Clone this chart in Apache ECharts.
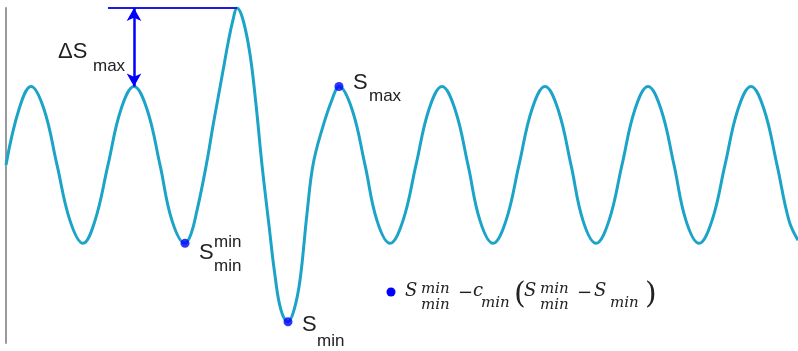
<!DOCTYPE html>
<html>
<head>
<meta charset="utf-8">
<script src="https://cdn.jsdelivr.net/npm/echarts@6/dist/echarts.min.js"></script>
<style>
  html, body { margin: 0; padding: 0; background: #ffffff; }
  #chart { width: 798px; height: 351px; }
</style>
</head>
<body>
<div id="chart"></div>
<script>
// Signal samples along t (regular oscillation, overshoot peak, deep minimum)
const waveT = [6, 19, 31, 44, 57, 70, 83, 95, 108, 121, 134, 147, 160, 172, 185,
               191, 197, 203, 208, 213, 218, 223, 228, 233, 237,
               243, 250, 256, 262, 269, 275, 281, 288,
               294, 300, 307, 313, 322, 332, 339,
               352, 365, 377, 390, 403, 416, 429, 442, 455, 468, 480, 493, 506, 519, 532,
               545, 558, 571, 583, 596, 609, 622, 635, 648, 661, 674, 686, 699, 712, 725,
               738, 751, 764, 777, 789, 798];
const waveS = [0, 0.71, 1, 0.71, 0, -0.71, -1, -0.71, 0, 0.71, 1, 0.71, 0, -0.71, -1,
               -0.88, -0.58, -0.22, 0.12, 0.5, 0.85, 1.2, 1.55, 1.85, 2,
               1.85, 1.41, 0.77, 0, -0.77, -1.41, -1.85, -2,
               -1.85, -1.47, -0.62, 0, 0.45, 0.83, 1,
               0.71, 0, -0.71, -1, -0.71, 0, 0.71, 1, 0.71, 0, -0.71, -1, -0.71, 0, 0.71,
               1, 0.71, 0, -0.71, -1, -0.71, 0, 0.71, 1, 0.71, 0, -0.71, -1, -0.71, 0,
               0.71, 1, 0.71, 0, -0.71, -0.96];

// Highlighted points: S_min^min, S_min, S_max
const pointT = [185, 288, 339];
const pointS = [-1, -2, 1];

// Delta S_max: regular peak vs. overshoot peak
const deltaT = 134;
const deltaLow = 1;
const deltaHigh = 2;
const refLineT = [108, 237];

const INK = '#222222';
const BLUE = '#0000ff';
const SANS = '"Liberation Sans", Arial, sans-serif';
const SERIF = '"DejaVu Serif", serif';

const chart = echarts.init(document.getElementById('chart'), null, { renderer: 'canvas' });

chart.setOption({
  animation: false,
  backgroundColor: '#ffffff',
  grid: { left: 6, right: 0, top: 8, bottom: 8 },
  xAxis: { type: 'value', min: 6, max: 798, show: false },
  yAxis: {
    type: 'value', min: -2.27, max: 2,
    axisLine: { show: true, lineStyle: { color: '#9a9a9a', width: 2 } },
    axisTick: { show: false }, axisLabel: { show: false }, splitLine: { show: false }
  },
  series: [
    {
      type: 'line',
      data: waveT.map((t, i) => [t, waveS[i]]),
      smooth: 0.4,
      showSymbol: false,
      lineStyle: { color: '#1ba3c8', width: 3 },
      silent: true
    },
    {
      type: 'scatter',
      data: pointT.map((t, i) => [t, pointS[i]]),
      symbolSize: 9,
      itemStyle: { color: BLUE },
      z: 5,
      silent: true,
      markLine: {
        silent: true,
        symbolSize: [11, 13],
        label: { show: false },
        data: [
          [
            { coord: [refLineT[0], deltaHigh], symbol: 'none', lineStyle: { color: '#1a1ae0', width: 2, type: 'solid' } },
            { coord: [refLineT[1], deltaHigh], symbol: 'none' }
          ],
          [
            { coord: [deltaT, deltaHigh], symbol: 'arrow', lineStyle: { color: BLUE, width: 2.5, type: 'solid' } },
            { coord: [deltaT, deltaLow], symbol: 'arrow' }
          ]
        ]
      }
    }
  ]
});

function txt(str, x, baseline, size, family, italic) {
  return {
    type: 'text', x: x, y: baseline - 0.35 * size, silent: true, z: 10,
    style: {
      text: str, fill: INK, fontSize: size, fontFamily: family,
      fontStyle: italic ? 'italic' : 'normal',
      align: 'left', verticalAlign: 'middle'
    }
  };
}

const px = (t, s) => chart.convertToPixel({ gridIndex: 0 }, [t, s]);
const [aMinMin, aMin, aMax] = pointT.map((t, i) => px(t, pointS[i]));
const aDelta = px(deltaT, deltaHigh);

const labels = [
  // S_min^min
  txt('S', aMinMin[0] + 14, aMinMin[1] + 17, 22, SANS),
  txt('min', aMinMin[0] + 29, aMinMin[1] + 5, 17, SANS),
  txt('min', aMinMin[0] + 29, aMinMin[1] + 29, 17, SANS),
  // S_min
  txt('S', aMin[0] + 14, aMin[1] + 11, 22, SANS),
  txt('min', aMin[0] + 29, aMin[1] + 25, 17, SANS),
  // S_max
  txt('S', aMax[0] + 14, aMax[1] + 4, 22, SANS),
  txt('max', aMax[0] + 30, aMax[1] + 16, 17, SANS),
  // Delta S_max
  txt('ΔS', aDelta[0] - 76, aDelta[1] + 52, 22, SANS),
  txt('max', aDelta[0] - 41, aDelta[1] + 64, 17, SANS)
];

// Legend entry: S_min^min - c_min (S_min^min - S_min)
const lx = 391, ly = 292;
const legend = [
  { type: 'circle', shape: { cx: lx, cy: ly, r: 4.5 }, style: { fill: BLUE }, silent: true, z: 10 },
  txt('S', lx + 14, ly + 6, 18, SERIF, true),
  txt('min', lx + 30, ly + 2, 15, SERIF, true),
  txt('min', lx + 30, ly + 18, 15, SERIF, true),
  txt('−', lx + 67, ly + 8, 18, SERIF, false),
  txt('c', lx + 82, ly + 6, 18, SERIF, true),
  txt('min', lx + 90, ly + 16, 15, SERIF, true),
  txt('(', lx + 123, ly + 14, 30, SERIF, false),
  txt('S', lx + 133, ly + 6, 18, SERIF, true),
  txt('min', lx + 149, ly + 2, 15, SERIF, true),
  txt('min', lx + 149, ly + 18, 15, SERIF, true),
  txt('−', lx + 186, ly + 8, 18, SERIF, false),
  txt('S', lx + 203, ly + 6, 18, SERIF, true),
  txt('min', lx + 219, ly + 16, 15, SERIF, true),
  txt(')', lx + 254, ly + 14, 30, SERIF, false)
];

chart.setOption({ graphic: labels.concat(legend) });
</script>
</body>
</html>
